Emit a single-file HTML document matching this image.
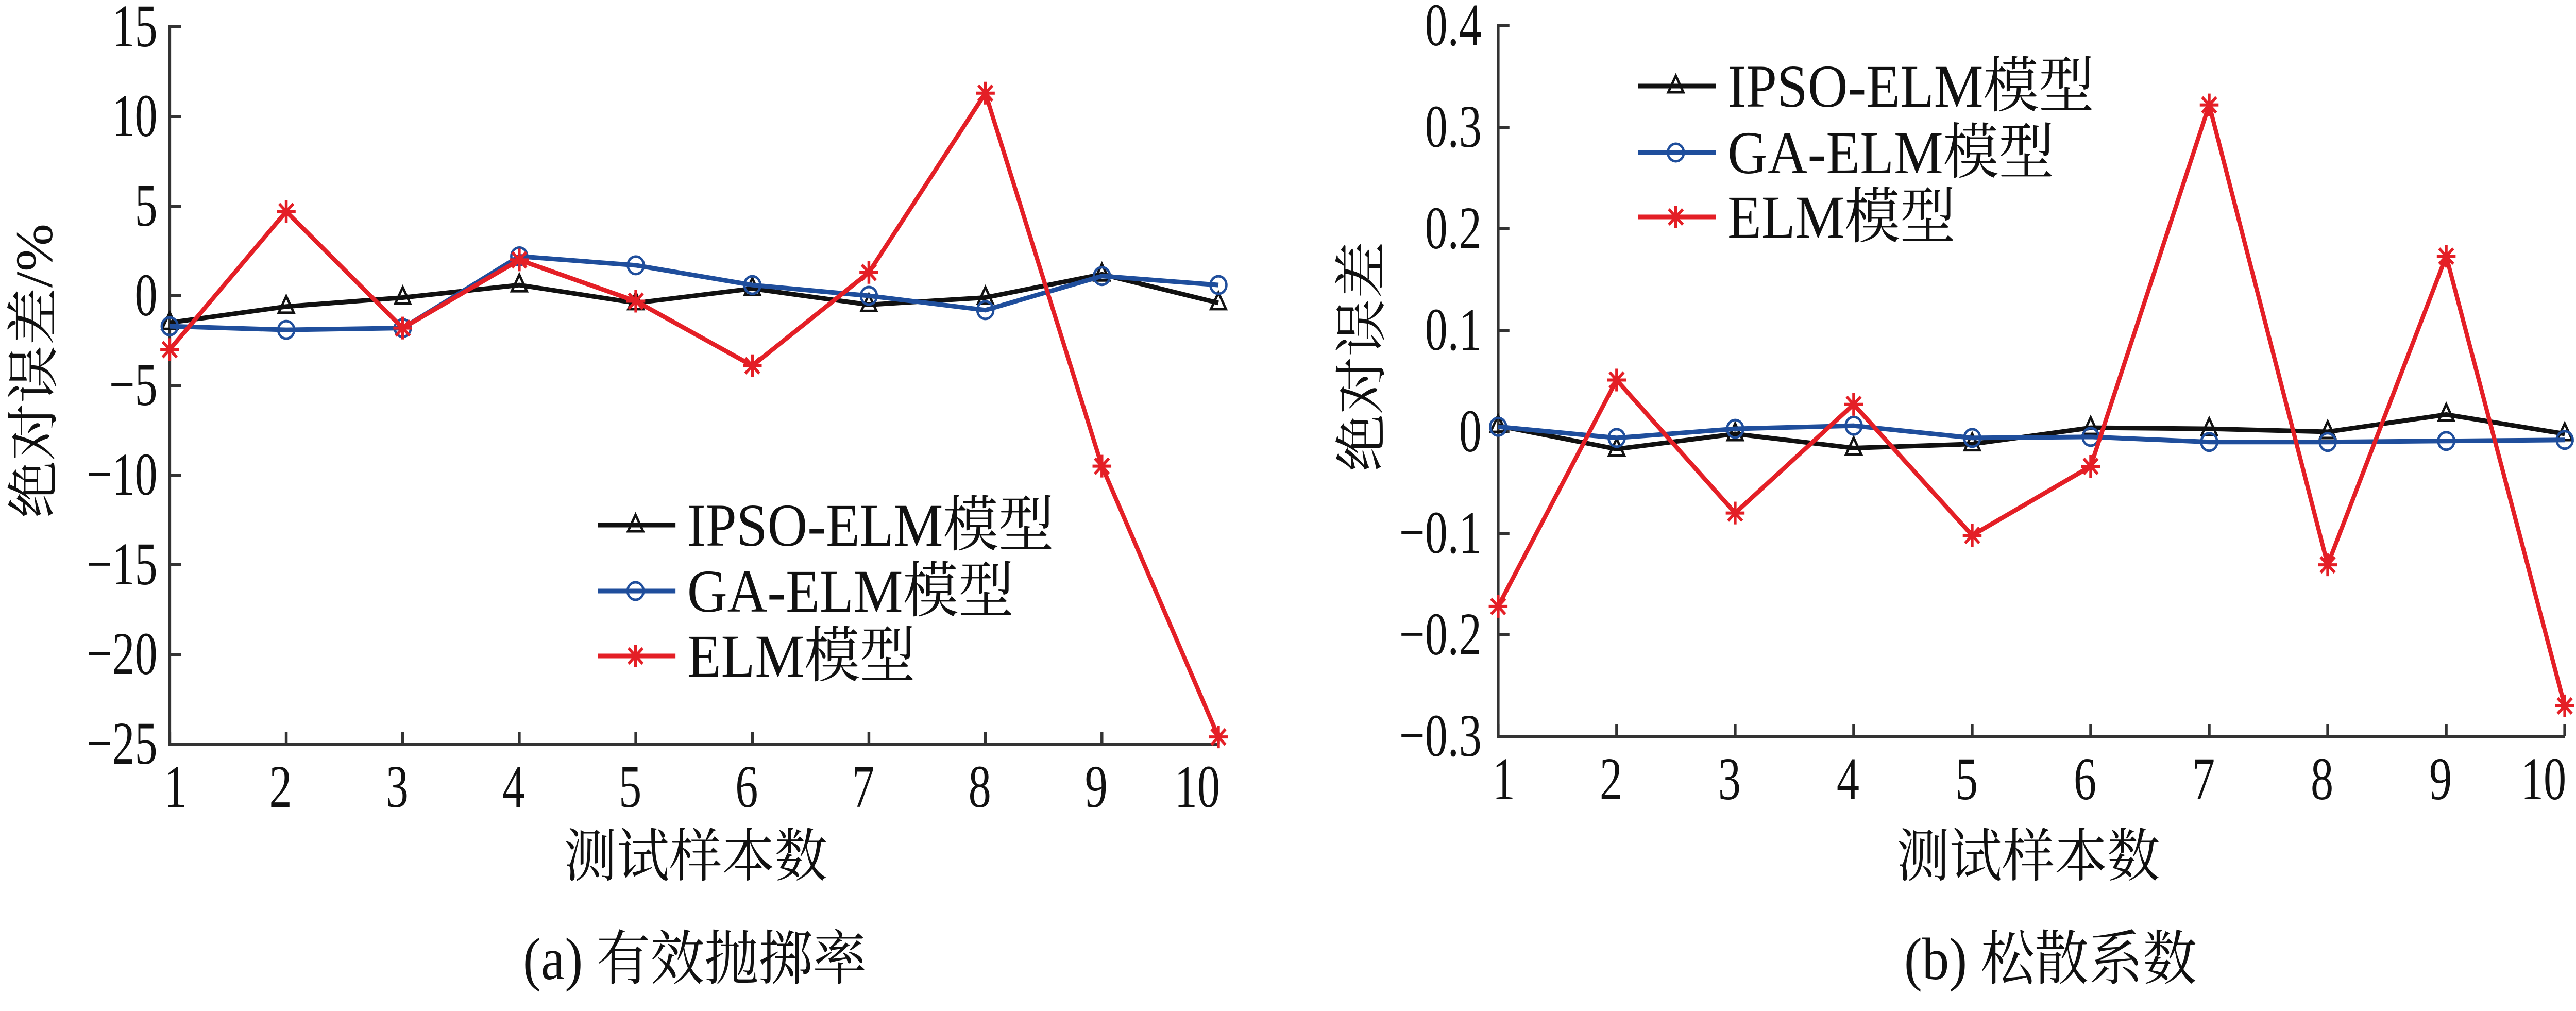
<!DOCTYPE html>
<html><head><meta charset="utf-8">
<style>
html,body{margin:0;padding:0;background:#fff;overflow:hidden;width:100%;height:100%;}
svg{display:block;width:100vw;height:100vh;}
text{font-family:"Liberation Serif","Noto Serif CJK SC","Noto Sans CJK SC",serif;fill:#111;}
</style></head>
<body>
<svg id="chart" viewBox="0 0 5480 1962" preserveAspectRatio="none" xmlns="http://www.w3.org/2000/svg"></svg>
<script>
const categories = [1,2,3,4,5,6,7,8,9,10];
const seriesNames = ["IPSO-ELM模型","GA-ELM模型","ELM模型"];
const leftIPSO = [-1.5,-0.6,-0.1,0.6,-0.4,0.4,-0.5,-0.1,1.2,-0.4];
const leftGA = [-1.7,-1.9,-1.8,2.2,1.7,0.6,0.0,-0.8,1.1,0.6];
const leftELM = [-3.0,4.7,-1.8,2.0,-0.3,-3.9,1.3,11.3,-9.5,-24.6];
const leftTicks = [15,10,5,0,-5,-10,-15,-20,-25];
const rightIPSO = [0.006,-0.017,-0.002,-0.016,-0.012,0.004,0.003,0.0,0.017,-0.002];
const rightGA = [0.005,-0.006,0.003,0.006,-0.006,-0.005,-0.01,-0.01,-0.009,-0.008];
const rightELM = [-0.172,0.051,-0.08,0.027,-0.102,-0.034,0.322,-0.131,0.173,-0.27];
const rightTicks = [0.4,0.3,0.2,0.1,0,-0.1,-0.2,-0.3];

const NS = "http://www.w3.org/2000/svg";
const svg = document.getElementById('chart');
function mk(tag, attrs, parent){
  const e = document.createElementNS(NS, tag);
  for (const k in attrs) e.setAttribute(k, attrs[k]);
  (parent||svg).appendChild(e);
  return e;
}
const colors = ["#111111","#1f4e9c","#e41f26"];
const markers = ["tri","circ","star"];

function marker(g, type, x, y, color){
  let m;
  if (type === "tri") {
    m = mk('polygon',{points:`${x},${y-20} ${x-16},${y+12} ${x+16},${y+12}`,fill:'none',stroke:color,'stroke-width':5},g);
  } else if (type === "circ") {
    m = mk('circle',{cx:x,cy:y,r:17,fill:'none',stroke:color,'stroke-width':5},g);
  } else {
    m = mk('path',{d:`M${x-20},${y}H${x+20}M${x},${y-22}V${y+22}M${x-15},${y-15}L${x+15},${y+15}M${x-15},${y+15}L${x+15},${y-15}`,stroke:color,'stroke-width':6,fill:'none'},g);
  }
  
  
}

function drawChart(cfg){
  const g = mk('g',{});
  
  
  const {x0,x1,y0,y1,ymax,ymin} = cfg;
  const xs = i => x0 + (i-1)*(x1-x0)/9;
  const ys = v => y0 + (ymax - v)/(ymax - ymin)*(y1-y0);
  const ya = mk('line',{x1:x0,y1:y0-4,x2:x0,y2:y1,stroke:'#333','stroke-width':6},g);
   
  const xa = mk('line',{x1:x0-3,y1:y1,x2:x1,y2:y1,stroke:'#333','stroke-width':6},g);
   
  cfg.ticks.forEach(t=>{
    const y = ys(t);
    const tk = mk('line',{x1:x0,y1:y,x2:x0+24,y2:y,stroke:'#333','stroke-width':6},g);
     
    const lb = mk('text',{x:0,y:0,'text-anchor':'end','font-size':118,transform:`translate(${cfg.labelRight},${y+38}) scale(0.82,1)`},g);
     
    lb.textContent = (t<0?'\u2212':'') + Math.abs(t);
  });
  categories.forEach((c,i)=>{
    const x = xs(c);
    const tk = mk('line',{x1:x,y1:y1,x2:x,y2:y1-24,stroke:'#333','stroke-width':6},g);
     
    const lx = i===0 ? x+12 : (i===9 ? x-45 : x-12);
    const lb = mk('text',{x:0,y:0,'text-anchor':'middle','font-size':118,transform:`translate(${lx},${y1+122}) scale(0.82,1)`},g);
     
    lb.textContent = c;
  });
  cfg.series.forEach((arr,si)=>{
    const pts = arr.map((v,i)=>`${xs(categories[i])},${ys(v)}`).join(' ');
    const pl = mk('polyline',{points:pts,fill:'none',stroke:colors[si],'stroke-width':9,'stroke-linejoin':'round'},g);
    
    
    arr.forEach((v,i)=>marker(g, markers[si], xs(categories[i]), ys(v), colors[si]));
  });
  seriesNames.forEach((n,si)=>{
    const y = cfg.legY[si];
    const ln = mk('line',{x1:cfg.legX,y1:y,x2:cfg.legX+165,y2:y,stroke:colors[si],'stroke-width':9},g);
     
    marker(g, markers[si], cfg.legX+80, y, colors[si]);
    const t = mk('text',{x:cfg.legX+190,y:y+40,'font-size':118},g);
     
    t.textContent = n;
  });
  const yt = mk('text',{x:0,y:0,'text-anchor':'middle','font-size':112,transform:`translate(${cfg.ytX},${cfg.ytY}) rotate(-90)`},g);
   
  yt.textContent = cfg.ytitle;
  const xt = mk('text',{x:cfg.xtX,y:1700,'text-anchor':'middle','font-size':112},g);
   
  xt.textContent = '测试样本数';
  const cp = mk('text',{x:cfg.capX,y:1900,'text-anchor':'middle','font-size':115},g);
   
  cp.textContent = cfg.caption;
}

drawChart({name:'chart-a',x0:361,x1:2592,y0:52,y1:1444,ymax:15,ymin:-25,ticks:leftTicks,labelRight:335,
  series:[leftIPSO,leftGA,leftELM],legX:1272,legY:[1019,1147,1273],
  ytitle:'绝对误差/%',ytX:110,ytY:720,xtX:1480,capX:1478,caption:'(a)  有效抛掷率'});
drawChart({name:'chart-b',x0:3187,x1:5456,y0:50,y1:1429,ymax:0.4,ymin:-0.3,ticks:rightTicks,labelRight:3152,
  series:[rightIPSO,rightGA,rightELM],legX:3485,legY:[167,296,421],
  ytitle:'绝对误差',ytX:2935,ytY:692,xtX:4315,capX:4362,caption:'(b)  松散系数'});
</script>
</body></html>
